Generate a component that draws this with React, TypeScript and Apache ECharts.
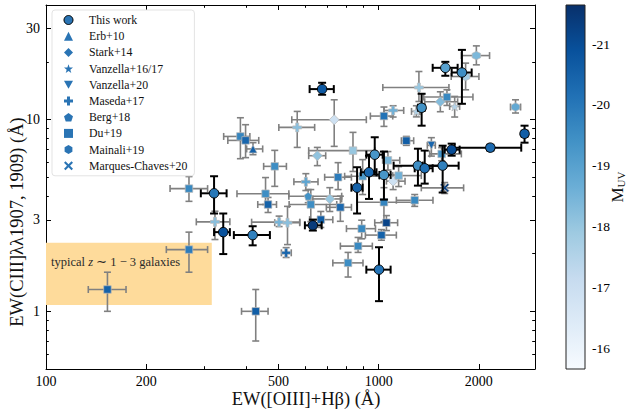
import React, { useEffect, useRef } from "react";
import * as echarts from "echarts";

// ---------- data: [EW_OIII, xLow, xHigh, EW_CIII, yLow, yHigh, M_UV] ----------
const THIS_WORK = [
  [676, 620, 733, 14.45, 13.5, 15.59, -20.7],
  [1586, 1453, 1727, 18.66, 16.96, 20.05, -19.0],
  [1779, 1657, 1903, 17.64, 12.11, 23.15, -19.5],
  [1346, 1312, 1375, 11.55, 9.31, 13.66, -19.4],
  [2744, 2690, 2800, 8.45, 7.59, 9.31, -20.6],
  [1657, 1579, 1751, 6.98, 6.49, 7.5, -21.0],
  [2165, 1692, 2682, 7.15, 6.9, 7.4, -20.3],
  [1312, 1109, 1532, 5.76, 4.53, 7.06, -19.5],
  [1375, 1283, 1453, 5.58, 4.64, 6.9, -20.2],
  [1557, 1356, 1739, 5.76, 4.17, 7.32, -19.8],
  [973, 918, 1028, 6.57, 5.17, 8.1, -19.3],
  [935, 884, 985, 5.32, 3.86, 6.49, -20.4],
  [1037, 1005, 1086, 5.15, 3.83, 6.82, -19.3],
  [861, 828, 895, 4.42, 3.24, 5.65, -20.5],
  [1002, 918, 1086, 1.65, 1.13, 2.16, -20.1],
  [320, 292, 349, 4.13, 3.24, 5.07, -20.0],
  [341, 320, 357, 2.59, 1.99, 3.24, -20.9],
  [418, 367, 471, 2.5, 2.21, 2.78, -19.8],
  [634, 600, 674, 2.81, 2.64, 3.01, -21.4],
];
const ERB10 = [[419, 401, 448, 7.04, 6.57, 7.59, -20.5]];
const STARK14 = [
  [735, 548, 918, 10.0, 7.26, 12.71, -16.9],
  [654, 616, 693, 6.49, 5.76, 7.17, -18.1],
  [713, 634, 774, 3.86, 3.32, 4.42, -18.0],
  [1532, 1375, 1727, 12.41, 11.01, 13.99, -18.3],
  [1105, 1055, 1200, 4.78, 4.32, 5.17, -16.9],
];
const VANZELLA16 = [
  [1692, 1634, 1751, 11.73, 10.33, 13.23, -17.5],
  [1298, 1255, 1330, 11.05, 10.35, 11.83, -17.6],
];
const VANZELLA20 = [[1440, 1400, 1480, 7.35, 6.46, 8.06, -20.4]];
const MASEDA17 = [
  [1321, 1029, 1626, 14.73, 12.45, 17.85, -18.0],
  [1105, 1038, 1189, 11.18, 10.33, 11.83, -18.6],
  [569, 501, 642, 9.12, 7.17, 11.05, -18.2],
  [604, 556, 657, 4.74, 4.27, 5.23, -18.9],
  [322, 283, 357, 2.93, 2.37, 3.33, -18.2],
  [502, 415, 579, 2.92, 2.77, 3.14, -18.5],
  [532, 487, 579, 2.9, 2.23, 3.53, -18.2],
  [527, 510, 546, 2.02, 1.91, 2.15, -20.4],
];
const BERG18 = [[614, 537, 774, 3.99, 3.69, 4.32, -19.4]];
const DU19 = [
  [269, 236, 306, 4.37, 3.75, 5.05, -19.6],
  [269, 230, 306, 2.1, 1.6, 2.59, -19.9],
  [153, 134, 174, 1.3, 1.0, 1.6, -20.5],
  [427, 387, 465, 1.0, 0.7, 1.3, -20.6],
  [384, 342, 410, 8.18, 6.26, 10.24, -19.7],
  [398, 352, 436, 7.8, 6.34, 9.42, -20.4],
  [487, 451, 528, 5.71, 4.49, 6.92, -19.5],
  [457, 375, 537, 4.11, 3.61, 4.99, -19.5],
  [465, 433, 493, 3.61, 3.28, 3.93, -20.5],
  [755, 688, 828, 5.01, 4.32, 5.97, -19.9],
  [625, 538, 748, 3.61, 2.94, 4.32, -19.5],
  [767, 696, 828, 3.49, 2.95, 3.99, -20.3],
  [670, 620, 728, 3.01, 2.74, 3.32, -20.6],
  [889, 800, 978, 2.7, 2.39, 2.99, -19.6],
  [1055, 973, 1140, 2.9, 2.64, 3.16, -21.2],
  [1019, 912, 1130, 2.5, 2.35, 2.67, -20.5],
  [867, 767, 957, 2.19, 2.03, 2.43, -19.6],
  [809, 728, 897, 1.79, 1.51, 2.03, -19.5],
  [1037, 861, 1268, 3.71, 2.94, 4.42, -19.7],
  [1283, 1130, 1456, 3.8, 3.53, 4.07, -19.6],
  [1037, 944, 1102, 10.45, 9.23, 11.65, -20.1],
  [1211, 1170, 1274, 7.77, 7.35, 8.18, -20.6],
  [1604, 1365, 1920, 13.13, 11.87, 14.33, -19.6],
  [1546, 1423, 1772, 6.63, 6.11, 7.15, -19.4],
  [837, 616, 973, 6.9, 5.37, 8.59, -18.0],
  [1148, 1102, 1343, 5.11, 4.48, 5.69, -18.6],
  [1066, 1028, 1157, 6.14, 5.46, 6.82, -18.5],
  [895, 790, 1005, 5.07, 4.07, 6.19, -19.2],
];
const MAINALI19 = [
  [2578, 2490, 2670, 11.65, 10.84, 12.71, -18.8],
  [1966, 1772, 2154, 21.62, 19.34, 24.29, -18.4],
  [1825, 1652, 2001, 16.81, 14.33, 19.74, -17.8],
];
const MARQUES20 = [[1579, 1343, 1800, 4.41, 4.12, 4.7, -21.3]];

// ---------- axes / scales ----------
const X_RANGE = [100, 2950];
const Y_RANGE = [0.5, 39.7];
const X_MAJOR = [100, 200, 500, 1000, 2000];
const X_MINOR = [300, 400, 600, 700, 800, 900];
const Y_MAJOR = [1, 3, 10, 30];
const Y_MINOR = [0.6, 0.7, 0.8, 0.9, 2, 4, 5, 6, 7, 8, 9, 20];
const MUV_RANGE = [-21.64, -15.67];
const MUV_TICKS = [-21, -20, -19, -18, -17, -16];
const TYPICAL_X = [100, 315];
const TYPICAL_Y = [1.08, 2.28];

const BLUES_DARK_TO_LIGHT = [
  "#08306b", "#08519c", "#2171b5", "#4292c6", "#6baed6",
  "#9ecae1", "#c6dbef", "#deebf7", "#f7fbff",
];

const FONT = '"Liberation Serif", "Times New Roman", serif';
const LEGEND_COLOR = "#2a74b4";
const OTHER_EDGE = "rgba(185,185,185,0.9)";

const STAR = "path://M0,-10L2.35,-3.24L9.51,-3.09L3.8,1.24L5.88,8.09L0,4L-5.88,8.09L-3.8,1.24L-9.51,-3.09L-2.35,-3.24Z";
const PLUS = "path://M-1,-3L1,-3L1,-1L3,-1L3,1L1,1L1,3L-1,3L-1,1L-3,1L-3,-1L-1,-1Z";
const PENTAGON = "path://M0,-1L0.951,-0.309L0.588,0.809L-0.588,0.809L-0.951,-0.309Z";
const HEXAGON = "path://M0,-1L0.866,-0.5L0.866,0.5L0,1L-0.866,0.5L-0.866,-0.5Z";
const XMARK = "path://M-3,-2L-2,-3L0,-1L2,-3L3,-2L1,0L3,2L2,3L0,1L-2,3L-3,2L-1,0Z";
const TRI_DOWN = "path://M-1,-0.9L1,-0.9L0,0.9Z";

const OTHERS = [
  { name: "Erb+10", symbol: "triangle", size: 8, data: ERB10 },
  { name: "Stark+14", symbol: "diamond", size: 10, data: STARK14 },
  { name: "Vanzella+16/17", symbol: STAR, size: 9, data: VANZELLA16 },
  { name: "Vanzella+20", symbol: TRI_DOWN, size: 8, data: VANZELLA20 },
  { name: "Maseda+17", symbol: PLUS, size: 9, data: MASEDA17 },
  { name: "Berg+18", symbol: PENTAGON, size: 8, data: BERG18 },
  { name: "Du+19", symbol: "rect", size: 7.5, data: DU19 },
  { name: "Mainali+19", symbol: HEXAGON, size: 8.5, data: MAINALI19 },
  { name: "Marques-Chaves+20", symbol: XMARK, size: 9, data: MARQUES20 },
];

function errRender(color: string, width: number, cap: number) {
  return (params: any, api: any) => {
    const x = api.value(0), xl = api.value(1), xh = api.value(2);
    const y = api.value(3), yl = api.value(4), yh = api.value(5);
    const l = api.coord([xl, y]);
    const r = api.coord([xh, y]);
    const b = api.coord([x, yl]);
    const t = api.coord([x, yh]);
    const style = { stroke: color, lineWidth: width, fill: "none" };
    const seg = (x1: number, y1: number, x2: number, y2: number) => ({
      type: "line",
      shape: { x1, y1, x2, y2 },
      style,
    });
    return {
      type: "group",
      children: [
        seg(l[0], l[1], r[0], r[1]),
        seg(b[0], b[1], t[0], t[1]),
        seg(l[0], l[1] - cap, l[0], l[1] + cap),
        seg(r[0], r[1] - cap, r[0], r[1] + cap),
        seg(b[0] - cap, b[1], b[0] + cap, b[1]),
        seg(t[0] - cap, t[1], t[0] + cap, t[1]),
      ],
    };
  };
}

function buildOption() {
  const tickLine = { color: "#000", width: 1 };
  const xBase = {
    type: "log",
    logBase: 10,
    min: X_RANGE[0],
    max: X_RANGE[1],
    gridIndex: 0,
    splitLine: { show: false },
  };
  const yBase = {
    type: "log",
    logBase: 10,
    min: Y_RANGE[0],
    max: Y_RANGE[1],
    gridIndex: 0,
    splitLine: { show: false },
  };
  const major = (vals: number[]) => ({
    show: true, inside: true, length: 5, customValues: vals, lineStyle: tickLine,
  });
  const minor = (vals: number[]) => ({
    show: true, inside: true, length: 2.8, customValues: vals, lineStyle: tickLine,
  });
  const labelStyle = { fontFamily: FONT, fontSize: 14, color: "#000" };

  const xAxis: any[] = [
    {
      ...xBase, position: "bottom",
      axisLine: { show: true, lineStyle: tickLine },
      axisTick: major(X_MAJOR),
      axisLabel: { show: true, customValues: X_MAJOR, margin: 5, formatter: (v: number) => String(Math.round(v)), ...labelStyle },
    },
    { ...xBase, position: "bottom", axisLine: { show: false }, axisTick: minor(X_MINOR), axisLabel: { show: false } },
    { ...xBase, position: "top", axisLine: { show: true, lineStyle: tickLine }, axisTick: major(X_MAJOR), axisLabel: { show: false } },
    { ...xBase, position: "top", axisLine: { show: false }, axisTick: minor(X_MINOR), axisLabel: { show: false } },
    { gridIndex: 1, type: "value", min: -1, max: 1, show: false },
  ];
  const yAxis: any[] = [
    {
      ...yBase, position: "left",
      axisLine: { show: true, lineStyle: tickLine },
      axisTick: major(Y_MAJOR),
      axisLabel: { show: true, customValues: Y_MAJOR, margin: 6, formatter: (v: number) => String(Math.round(v)), ...labelStyle },
    },
    { ...yBase, position: "left", axisLine: { show: false }, axisTick: minor(Y_MINOR), axisLabel: { show: false } },
    { ...yBase, position: "right", axisLine: { show: true, lineStyle: tickLine }, axisTick: major(Y_MAJOR), axisLabel: { show: false } },
    { ...yBase, position: "right", axisLine: { show: false }, axisTick: minor(Y_MINOR), axisLabel: { show: false } },
    {
      gridIndex: 1, type: "value", min: MUV_RANGE[0], max: MUV_RANGE[1], inverse: true, position: "right",
      splitLine: { show: false },
      axisLine: { show: false },
      axisTick: { show: true, inside: false, length: 3.5, customValues: MUV_TICKS, lineStyle: tickLine },
      axisLabel: { show: true, customValues: MUV_TICKS, margin: 7, formatter: (v: number) => String(Math.round(v)), ...labelStyle, fontSize: 13.5 },
    },
  ];

  const series: any[] = [];
  const scatterIdx: number[] = [];

  // grey error bars of literature samples (+ the typical-galaxy region)
  series.push({
    type: "custom",
    name: "_errs",
    xAxisIndex: 0, yAxisIndex: 0,
    renderItem: errRender("#808080", 1.6, 3.5),
    encode: { x: [0, 1, 2], y: [3, 4, 5] },
    data: OTHERS.flatMap((s) => s.data),
    z: 2,
    silent: true,
    markArea: {
      silent: true,
      itemStyle: { color: "#fedb9b" },
      label: {
        show: true,
        position: "insideLeft",
        distance: 5,
        offset: [0, -11.5],
        formatter: "typical {i|z} ∼ 1 − 3 galaxies",
        fontFamily: FONT, fontSize: 12.5, color: "#2a2a2a",
        rich: { i: { fontFamily: FONT, fontSize: 12.5, fontStyle: "italic", color: "#2a2a2a" } },
      },
      data: [[{ coord: [TYPICAL_X[0], TYPICAL_Y[0]] }, { coord: [TYPICAL_X[1], TYPICAL_Y[1]] }]],
    },
  });

  OTHERS.forEach((s) => {
    scatterIdx.push(series.length);
    series.push({
      type: "scatter",
      name: s.name,
      xAxisIndex: 0, yAxisIndex: 0,
      symbol: s.symbol,
      symbolSize: s.size,
      encode: { x: 0, y: 3 },
      data: s.data,
      itemStyle: { color: LEGEND_COLOR, borderColor: OTHER_EDGE, borderWidth: 0.8, opacity: 1 },
      z: 3,
    });
  });

  series.push({
    type: "custom",
    name: "_errsThis",
    xAxisIndex: 0, yAxisIndex: 0,
    renderItem: errRender("#000", 2, 4),
    encode: { x: [0, 1, 2], y: [3, 4, 5] },
    data: THIS_WORK,
    z: 4,
    silent: true,
  });
  scatterIdx.push(series.length);
  series.push({
    type: "scatter",
    name: "This work",
    xAxisIndex: 0, yAxisIndex: 0,
    symbol: "circle",
    symbolSize: 9.5,
    encode: { x: 0, y: 3 },
    data: THIS_WORK,
    itemStyle: { color: LEGEND_COLOR, borderColor: "#000", borderWidth: 1, opacity: 1 },
    z: 5,
  });

  // colour bar
  series.push({
    type: "custom",
    name: "_cbar",
    xAxisIndex: 4, yAxisIndex: 4,
    encode: { x: 0, y: [1, 2] },
    data: [[0, MUV_RANGE[0], MUV_RANGE[1]]],
    silent: true,
    renderItem: (params: any, api: any) => {
      const p1 = api.coord([0, api.value(1)]);
      const p2 = api.coord([0, api.value(2)]);
      const cs = params.coordSys;
      const n = BLUES_DARK_TO_LIGHT.length;
      return {
        type: "rect",
        shape: { x: cs.x, y: Math.min(p1[1], p2[1]), width: cs.width, height: Math.abs(p2[1] - p1[1]) },
        style: {
          fill: new echarts.graphic.LinearGradient(0, 0, 0, 1,
            BLUES_DARK_TO_LIGHT.map((c, i) => ({ offset: i / (n - 1), color: c }))),
          stroke: "#222",
          lineWidth: 1,
        },
      };
    },
  });

  const legendData = [
    { name: "This work", itemStyle: { borderColor: "#000", borderWidth: 1, color: LEGEND_COLOR } },
    ...OTHERS.map((s) => ({ name: s.name, itemStyle: { borderWidth: 0, color: LEGEND_COLOR } })),
  ];

  return {
    animation: false,
    backgroundColor: "#ffffff",
    grid: [
      { left: 46, top: 5, width: 489, height: 364 },
      { left: 566, top: 5, width: 19, height: 364 },
    ],
    xAxis,
    yAxis,
    visualMap: {
      type: "continuous",
      show: false,
      min: MUV_RANGE[0],
      max: MUV_RANGE[1],
      dimension: 6,
      seriesIndex: scatterIdx,
      inRange: { color: BLUES_DARK_TO_LIGHT },
    },
    legend: {
      orient: "vertical",
      left: 52,
      top: 10,
      padding: [4, 7, 4, 11.5],
      itemWidth: 9,
      itemHeight: 9,
      itemGap: 4.2,
      symbolKeepAspect: true,
      selectedMode: false,
      backgroundColor: "rgba(255,255,255,0.85)",
      borderColor: "#e3e3e3",
      borderWidth: 1,
      borderRadius: 3,
      textStyle: { fontFamily: FONT, fontSize: 11.8, color: "#111", lineHeight: 12, padding: [0, 0, 0, 11] },
      data: legendData,
    },
    graphic: [
      {
        type: "text", x: 306, y: 399, silent: true,
        style: { text: "EW([OIII]+Hβ) (Å)", fontFamily: FONT, fontSize: 18.5, fill: "#111", align: "center", verticalAlign: "middle" },
      },
      {
        type: "text", x: 17, y: 222, rotation: Math.PI / 2, silent: true,
        style: { text: "EW(CIII]λλ1907, 1909) (Å)", fontFamily: FONT, fontSize: 18.5, fill: "#111", align: "center", verticalAlign: "middle" },
      },
      {
        type: "text", x: 617, y: 187, rotation: Math.PI / 2, silent: true,
        style: {
          text: "{m|M}{s|UV}", align: "center", verticalAlign: "middle",
          rich: {
            m: { fontFamily: FONT, fontSize: 17, fill: "#111", lineHeight: 18 },
            s: { fontFamily: FONT, fontSize: 11, fill: "#111", verticalAlign: "bottom", lineHeight: 12, padding: [6, 0, 0, 0] },
          },
        },
      },
    ],
    series,
  };
}

export default function App() {
  const ref = useRef<HTMLDivElement>(null);
  useEffect(() => {
    if (!ref.current) return;
    const chart = echarts.init(ref.current, undefined, { renderer: "svg" });
    chart.setOption(buildOption() as any);
    return () => chart.dispose();
  }, []);
  return (
    <div
      ref={ref}
      style={{ position: "fixed", left: 0, top: 0, width: 627, height: 416, background: "#fff" }}
    />
  );
}
